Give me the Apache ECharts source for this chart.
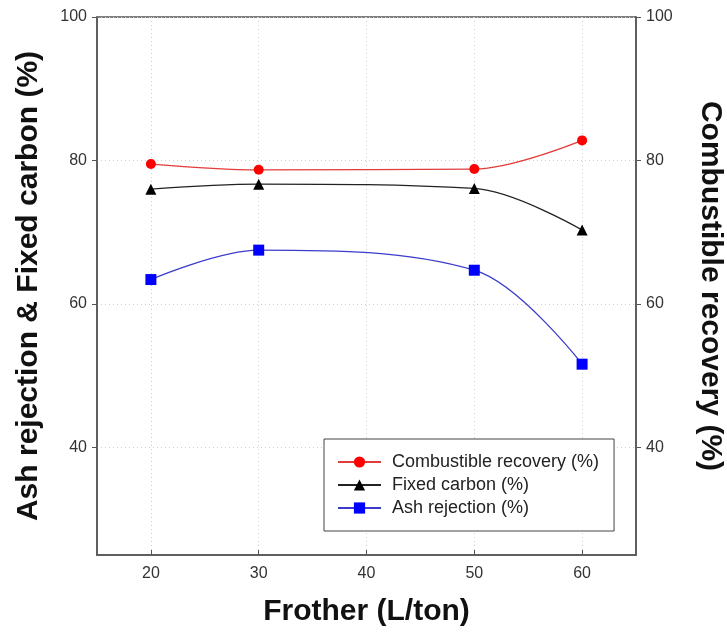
<!DOCTYPE html>
<html><head><meta charset="utf-8">
<script src="https://cdn.jsdelivr.net/npm/echarts@6/dist/echarts.min.js"></script>
<style>html,body{margin:0;padding:0;background:#fff}#c{width:727px;height:637px}</style>
</head><body><div id="c"></div>
<script>
const frother = [20, 30, 50, 60];
const combustibleRecovery = [79.5, 78.7, 78.8, 82.8];
const fixedCarbon = [76.0, 76.7, 76.1, 70.3];
const ashRejection = [63.4, 67.5, 64.7, 51.6];
const xTickValues = [20, 30, 40, 50, 60];
const yTickValues = [40, 60, 80, 100];
const seriesNames = ['Combustible recovery (%)', 'Fixed carbon (%)', 'Ash rejection (%)'];

const pairs = (ys) => frother.map((x, i) => [x, ys[i]]);
const FONT = 'Arial, "Liberation Sans", sans-serif';
const gridLine = { show: true, lineStyle: { color: '#cfcfcf', type: [1, 3], width: 1 } };

function yAxis(pos, name, rot, gap) {
  return {
    type: 'value', position: pos, min: 25, max: 100,
    name: name, nameLocation: 'middle', nameGap: gap, nameRotate: rot,
    nameTextStyle: { fontFamily: FONT, fontWeight: 'bold', fontSize: 30, color: '#111' },
    axisLine: { show: true, lineStyle: { color: '#555', width: 1.5 } },
    axisTick: { show: true, inside: false, length: 5, customValues: yTickValues, lineStyle: { color: '#555' } },
    axisLabel: { customValues: yTickValues, fontFamily: FONT, fontSize: 16, color: '#333', margin: 10 },
    splitLine: pos === 'left' ? gridLine : { show: false }
  };
}

const chart = echarts.init(document.getElementById('c'));
chart.setOption({
  backgroundColor: '#fff',
  animation: false,
  grid: { left: 97, right: 91, top: 17, bottom: 82, show: true, borderColor: '#555', borderWidth: 1.5,
          containLabel: false, outerBoundsMode: 'none' },
  xAxis: {
    type: 'value', min: 15, max: 65,
    name: 'Frother (L/ton)', nameLocation: 'middle', nameGap: 42,
    nameTextStyle: { fontFamily: FONT, fontWeight: 'bold', fontSize: 30, color: '#111' },
    axisLine: { show: true, onZero: false, lineStyle: { color: '#555', width: 1.5 } },
    axisTick: { show: true, inside: true, length: 5, customValues: xTickValues, lineStyle: { color: '#555' } },
    axisLabel: { customValues: xTickValues, fontFamily: FONT, fontSize: 16, color: '#333', margin: 11 },
    splitLine: gridLine
  },
  yAxis: [
    yAxis('left', 'Ash rejection & Fixed carbon (%)', 90, 53),
    yAxis('right', 'Combustible recovery (%)', -90, 59)
  ],
  legend: {
    orient: 'vertical', left: 324, top: 439,
    padding: [13, 15, 13, 13], itemGap: 3, itemWidth: 43, itemHeight: 14,
    borderColor: '#444', borderWidth: 1, backgroundColor: '#fff',
    textStyle: { fontFamily: FONT, fontSize: 18, lineHeight: 20, color: '#222', padding: [0, 0, 0, 6] },
    data: seriesNames
  },
  series: [
    { name: seriesNames[0], type: 'line', yAxisIndex: 1, smooth: 0.35, data: pairs(combustibleRecovery),
      symbol: 'circle', symbolSize: 10, itemStyle: { color: '#ff0000' }, lineStyle: { color: '#e23b3b', width: 1.3 } },
    { name: seriesNames[1], type: 'line', yAxisIndex: 0, smooth: 0.35, data: pairs(fixedCarbon),
      symbol: 'triangle', symbolSize: 11, itemStyle: { color: '#000' }, lineStyle: { color: '#222', width: 1.3 } },
    { name: seriesNames[2], type: 'line', yAxisIndex: 0, smooth: 0.35, data: pairs(ashRejection),
      symbol: 'rect', symbolSize: 11, itemStyle: { color: '#0000ff' }, lineStyle: { color: '#3b3bcc', width: 1.3 } }
  ]
});
</script></body></html>
